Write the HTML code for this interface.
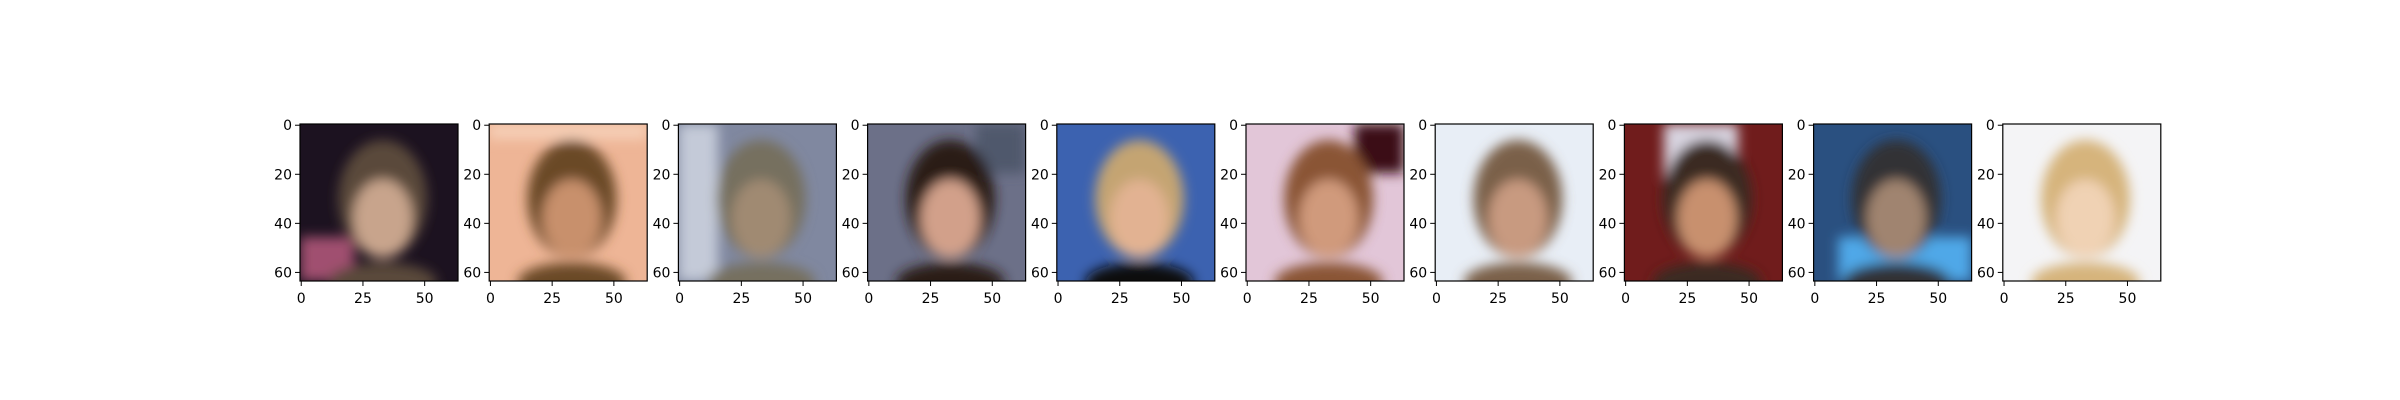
<!DOCTYPE html>
<html><head><meta charset="utf-8"><style>
html,body{margin:0;padding:0;background:#fff;width:2400px;height:400px;overflow:hidden}
svg text{font-family:"DejaVu Sans","Liberation Sans",sans-serif;font-size:14px;fill:#000}
</style></head><body>
<svg id="fig" width="2400" height="400" xmlns="http://www.w3.org/2000/svg">
<defs><filter id="blur" x="-20%" y="-20%" width="140%" height="140%"><feGaussianBlur stdDeviation="6"/></filter></defs>
</svg>
<script>
const panelIds = [1,2,3,4,5,6,7,8,9,10];
const bgColors = ['#1c1220','#eeb596','#8088a0','#6c7088','#3c62b0','#e2c6d8','#e8eef6','#701c1c','#2a5080','#f4f4f6'];
const bgAccent = ['#a05070','#f6d0b8','#c4cad8','#50586c','#284c98','#3a0c14','#f8fafc','#d8d4e0','#50a8e8','#fafafa'];
const hairColors = ['#5a4a3a','#6a4828','#76705e','#2a1e18','#c4a472','#8a5434','#7a6048','#3a2a22','#303034','#d6b47c'];
const skinColors = ['#c8a48c','#c8906c','#a08a72','#d2a08a','#e2b292','#d09a7c','#c89a80','#c8906e','#a08470','#f0d2b4'];
const xTicks = [0,25,50];
const yTicks = [0,20,40,60];
const imgSize = 64;

const svg = document.getElementById('fig');
const NS = 'http://www.w3.org/2000/svg';
const axLeft0 = 300, axStep = 189.2, axTop = 124, axW = 158, axH = 157;
const sx = axW / imgSize, sy = axH / imgSize;
// accent region per panel (image coords: x, y, w, h) — styling, not data
const accentBox = [[0,46,22,18],[0,0,64,6],[0,0,16,64],[44,0,20,20],[0,0,0,0],[44,0,20,20],[0,0,0,0],[16,0,30,22],[10,46,54,18],[0,0,0,0]];
function mk(tag, attrs, parent){const e=document.createElementNS(NS,tag);for(const k in attrs)e.setAttribute(k,attrs[k]);parent.appendChild(e);return e;}

panelIds.forEach((id,i)=>{
  const L = axLeft0 + axStep*i;
  const g = mk('g',{},svg);
  
  
  const cp = mk('clipPath',{id:'cp'+i},g);
  mk('rect',{x:L,y:axTop,width:axW,height:axH},cp);
  const img = mk('g',{'clip-path':'url(#cp'+i+')'},g);
  
  
  const px = v=>L+(v+0.5)*sx, py = v=>axTop+(v+0.5)*sy;
  mk('rect',{x:L,y:axTop,width:axW,height:axH,fill:bgColors[i]},img);
  const bl = mk('g',{filter:'url(#blur)'},img);
  const a = accentBox[i];
  if(a[2]>0) mk('rect',{x:px(a[0]-0.5),y:py(a[1]-0.5),width:a[2]*sx,height:a[3]*sy,fill:bgAccent[i]},bl);
  mk('ellipse',{cx:px(33),cy:py(30),rx:18*sx,ry:24*sy,fill:hairColors[i]},bl);
  mk('ellipse',{cx:px(33),cy:py(38),rx:12*sx,ry:16*sy,fill:skinColors[i]},bl);
  mk('ellipse',{cx:px(33),cy:py(64),rx:22*sx,ry:8*sy,fill:i==4?'#101010':hairColors[i]},bl);
  mk('rect',{x:L,y:axTop,width:axW,height:axH,fill:'none',stroke:'#000','stroke-width':1.2},g);
  xTicks.forEach(t=>{
    const x = px(t);
    mk('line',{x1:x,x2:x,y1:axTop+axH,y2:axTop+axH+5,stroke:'#000','stroke-width':1},g);
    const tx = mk('text',{x:x,y:axTop+axH+22,'text-anchor':'middle'},g);
    
    
    tx.textContent = t;
  });
  yTicks.forEach(t=>{
    const y = py(t);
    mk('line',{x1:L-5,x2:L,y1:y,y2:y,stroke:'#000','stroke-width':1},g);
    const tx = mk('text',{x:L-8,y:y+5,'text-anchor':'end'},g);
    
    
    tx.textContent = t;
  });
});
</script>
</body></html>
